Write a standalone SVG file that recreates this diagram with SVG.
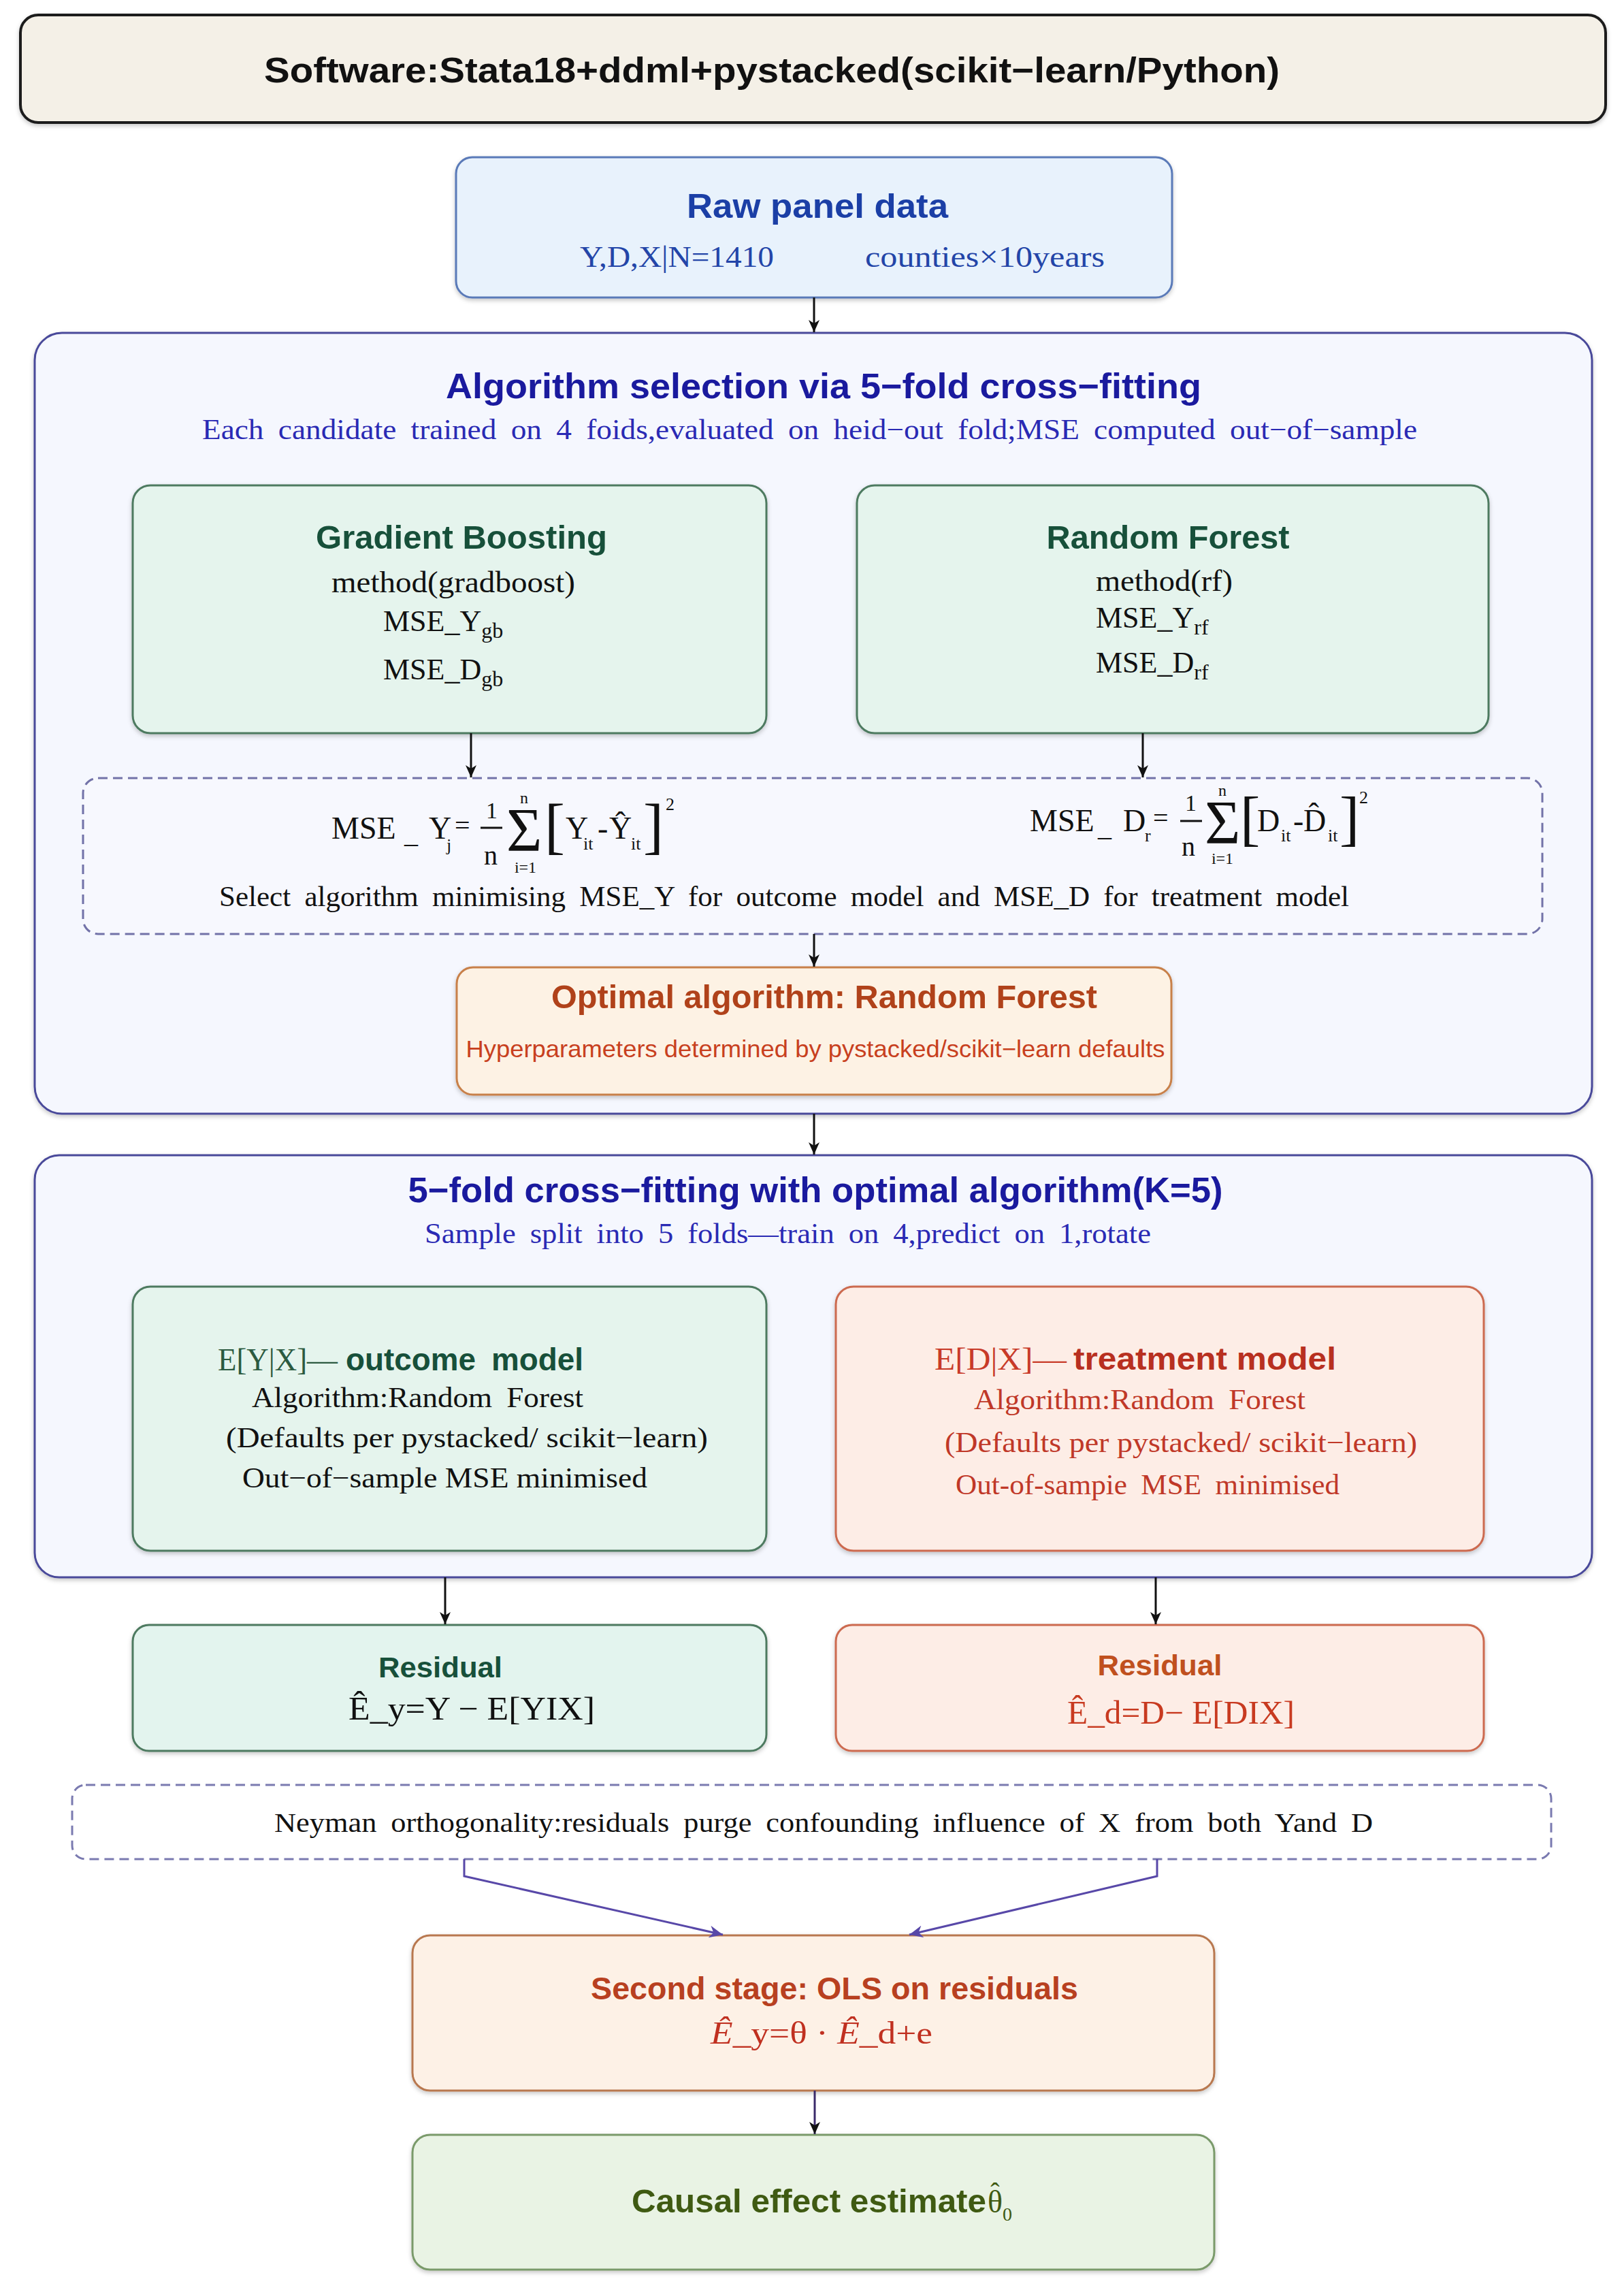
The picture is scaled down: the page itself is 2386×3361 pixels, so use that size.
<svg xmlns="http://www.w3.org/2000/svg" width="2386" height="3361" viewBox="0 0 2386 3361">
<defs>
<style>
.sans{font-family:"Liberation Sans",Arial,sans-serif}
.serif{font-family:"Liberation Serif","Times New Roman",serif}
.b{font-weight:bold}
.ws{word-spacing:0.22em}
.box{stroke-width:3}
.cont{fill:#f5f7fe;stroke:#4a4a9a;stroke-width:3}
.green{fill:#e5f4ed;stroke:#4e7a60}
.dash{fill:#f7f8fe;stroke:#7272a8;stroke-width:3;stroke-dasharray:14 8}
.conn{stroke:#111;stroke-width:3;fill:none}
.connp{stroke:#5848a8;stroke-width:3;fill:none}
</style>
<filter id="sh" x="-5%" y="-5%" width="110%" height="120%">
<feDropShadow dx="0" dy="3" stdDeviation="3" flood-color="#000" flood-opacity="0.22"/>
</filter>
<marker id="ah" markerUnits="userSpaceOnUse" markerWidth="20" markerHeight="16" refX="18" refY="8" orient="auto">
<path d="M0,0 L18,8 L0,16 L5,8 Z" fill="#111"/>
</marker>
<marker id="ahp" markerUnits="userSpaceOnUse" markerWidth="22" markerHeight="18" refX="20" refY="9" orient="auto">
<path d="M0,0 L20,9 L0,18 L6,9 Z" fill="#5848a8"/>
</marker>
</defs>
<rect width="2386" height="3361" fill="#ffffff"/>

<g id="software">
<rect x="30" y="22" width="2329" height="158" rx="26" fill="#f4f0e7" stroke="#1e1e1e" stroke-width="4" filter="url(#sh)"/>
<text class="sans b" x="1134" y="121" text-anchor="middle" font-size="52" textLength="1492" lengthAdjust="spacingAndGlyphs" fill="#111">Software:Stata18+ddml+pystacked(scikit−learn/Python)</text>
</g>

<g id="raw">
<rect x="670" y="231" width="1052" height="206" rx="24" fill="#e8f2fc" stroke="#5a7ab8" class="box" filter="url(#sh)"/>
<text class="sans b" x="1201" y="320" text-anchor="middle" font-size="50" textLength="384" lengthAdjust="spacingAndGlyphs" fill="#1b3fa6">Raw panel data</text>
<text class="serif" x="852" y="392" font-size="44" textLength="285" lengthAdjust="spacingAndGlyphs" fill="#2345a8">Y,D,X|N=1410</text>
<text class="serif" x="1271" y="392" font-size="44" textLength="352" lengthAdjust="spacingAndGlyphs" fill="#2345a8">counties×10years</text>
</g>

<g id="selection">
<rect x="51" y="489" width="2288" height="1147" rx="40" class="cont" filter="url(#sh)"/>
<text class="sans b" x="1210" y="585" text-anchor="middle" font-size="52" textLength="1110" lengthAdjust="spacingAndGlyphs" fill="#1a1a9e">Algorithm selection via 5−fold cross−fitting</text>
<text class="serif ws" x="297" y="645" font-size="42" textLength="1785" lengthAdjust="spacingAndGlyphs" fill="#2a2ab4">Each candidate trained on 4 foids,evaluated on heid−out fold;MSE computed out−of−sample</text>
</g>

<g id="gradboost">
<rect x="195" y="713" width="931" height="364" rx="26" class="green box" filter="url(#sh)"/>
<text class="sans b" x="678" y="806" text-anchor="middle" font-size="48" textLength="428" lengthAdjust="spacingAndGlyphs" fill="#17503a">Gradient Boosting</text>
<text class="serif" x="487" y="870" font-size="44" textLength="358" lengthAdjust="spacingAndGlyphs" fill="#111">method(gradboost)</text>
<text class="serif" x="563" y="927" font-size="44" fill="#111">MSE_Y<tspan font-size="32" dy="10">gb</tspan></text>
<text class="serif" x="563" y="998" font-size="44" fill="#111">MSE_D<tspan font-size="32" dy="10">gb</tspan></text>
</g>

<g id="randomforest">
<rect x="1259" y="713" width="928" height="364" rx="26" class="green box" filter="url(#sh)"/>
<text class="sans b" x="1716" y="806" text-anchor="middle" font-size="48" textLength="357" lengthAdjust="spacingAndGlyphs" fill="#17503a">Random Forest</text>
<text class="serif" x="1610" y="868" font-size="44" textLength="201" lengthAdjust="spacingAndGlyphs" fill="#111">method(rf)</text>
<text class="serif" x="1610" y="922" font-size="44" fill="#111">MSE_Y<tspan font-size="32" dy="10">rf</tspan></text>
<text class="serif" x="1610" y="988" font-size="44" fill="#111">MSE_D<tspan font-size="32" dy="10">rf</tspan></text>
</g>

<g id="mse">
<rect x="122" y="1143" width="2144" height="229" rx="22" class="dash"/>
<g class="serif" fill="#111">
<text x="487" y="1232" font-size="46">MSE<tspan x="594" dy="6" font-size="40">_</tspan><tspan x="630" dy="-6">Y</tspan><tspan x="656" dy="18" font-size="26">j</tspan><tspan x="668" dy="-24" font-size="40">=</tspan></text>
<text x="714" y="1202" font-size="34">1</text>
<line x1="706" y1="1216" x2="738" y2="1216" stroke="#111" stroke-width="3"/>
<text x="711" y="1270" font-size="40">n</text>
<text x="744" y="1250" font-size="90">Σ</text>
<text x="770" y="1180" font-size="24" text-anchor="middle">n</text>
<text x="772" y="1282" font-size="24" text-anchor="middle">i=1</text>
<text x="800" y="1244" font-size="90">[</text>
<text x="831" y="1232" font-size="46">Y<tspan x="857" dy="16" font-size="26">it</tspan><tspan x="878" dy="-16">-</tspan><tspan x="895">Ŷ</tspan><tspan x="927" dy="16" font-size="26">it</tspan></text>
<text x="945" y="1244" font-size="90">]</text>
<text x="978" y="1190" font-size="26">2</text>

<text x="1513" y="1221" font-size="46">MSE<tspan x="1613" dy="7" font-size="40">_</tspan><tspan x="1650" dy="-7">D</tspan><tspan x="1682" dy="15" font-size="26">r</tspan><tspan x="1694" dy="-21" font-size="40">=</tspan></text>
<text x="1741" y="1191" font-size="34">1</text>
<line x1="1734" y1="1206" x2="1766" y2="1206" stroke="#111" stroke-width="3"/>
<text x="1736" y="1257" font-size="40">n</text>
<text x="1770" y="1239" font-size="90">Σ</text>
<text x="1796" y="1169" font-size="24" text-anchor="middle">n</text>
<text x="1796" y="1269" font-size="24" text-anchor="middle">i=1</text>
<text x="1822" y="1232" font-size="88">[</text>
<text x="1847" y="1221" font-size="46">D<tspan x="1882" dy="15" font-size="26">it</tspan><tspan x="1900" dy="-15">-</tspan><tspan x="1915">D̂</tspan><tspan x="1951" dy="15" font-size="26">it</tspan></text>
<text x="1968" y="1232" font-size="88">]</text>
<text x="1997" y="1180" font-size="26">2</text>

<text class="ws" x="322" y="1331" font-size="42" textLength="1660" lengthAdjust="spacingAndGlyphs">Select algorithm minimising MSE_Y for outcome model and MSE_D for treatment model</text>
</g>
</g>

<g id="optimal">
<rect x="671" y="1421" width="1050" height="187" rx="24" fill="#fdf2e4" stroke="#c8804a" class="box" filter="url(#sh)"/>
<text class="sans b" x="1211" y="1481" text-anchor="middle" font-size="48" textLength="802" lengthAdjust="spacingAndGlyphs" fill="#b0421a">Optimal algorithm: Random Forest</text>
<text class="sans" x="1198" y="1553" text-anchor="middle" font-size="35" textLength="1027" lengthAdjust="spacingAndGlyphs" fill="#c8401e">Hyperparameters determined by pystacked/scikit−learn defaults</text>
</g>

<g id="crossfit">
<rect x="51" y="1697" width="2288" height="620" rx="36" class="cont" filter="url(#sh)"/>
<text class="sans b" x="1198" y="1766" text-anchor="middle" font-size="52" textLength="1197" lengthAdjust="spacingAndGlyphs" fill="#1a1a9e">5−fold cross−fitting with optimal algorithm(K=5)</text>
<text class="serif ws" x="624" y="1826" font-size="42" textLength="1067" lengthAdjust="spacingAndGlyphs" fill="#2a2ab4">Sample split into 5 folds—train on 4,predict on 1,rotate</text>
</g>

<g id="outcome">
<rect x="195" y="1890" width="931" height="388" rx="26" class="green box" filter="url(#sh)"/>
<text class="serif" x="320" y="2013" font-size="46" textLength="176" lengthAdjust="spacingAndGlyphs" fill="#2c5a40">E[Y|X]—</text>
<text class="sans b ws" x="508" y="2013" font-size="46" textLength="349" lengthAdjust="spacingAndGlyphs" fill="#17503a">outcome model</text>
<text class="serif ws" x="370" y="2067" font-size="42" textLength="487" lengthAdjust="spacingAndGlyphs" fill="#111">Algorithm:Random Forest</text>
<text class="serif" x="332" y="2126" font-size="42" textLength="708" lengthAdjust="spacingAndGlyphs" fill="#111">(Defaults per pystacked/ scikit−learn)</text>
<text class="serif" x="356" y="2185" font-size="42" textLength="595" lengthAdjust="spacingAndGlyphs" fill="#111">Out−of−sample MSE minimised</text>
</g>

<g id="treatment">
<rect x="1228" y="1890" width="952" height="388" rx="26" fill="#fdede6" stroke="#cc6a50" class="box" filter="url(#sh)"/>
<text class="serif" x="1373" y="2012" font-size="46" textLength="194" lengthAdjust="spacingAndGlyphs" fill="#c83a28">E[D|X]—</text>
<text class="sans b" x="1577" y="2012" font-size="46" textLength="386" lengthAdjust="spacingAndGlyphs" fill="#b83020">treatment model</text>
<text class="serif ws" x="1431" y="2070" font-size="42" textLength="487" lengthAdjust="spacingAndGlyphs" fill="#c03828">Algorithm:Random Forest</text>
<text class="serif" x="1388" y="2133" font-size="42" textLength="694" lengthAdjust="spacingAndGlyphs" fill="#c03828">(Defaults per pystacked/ scikit−learn)</text>
<text class="serif ws" x="1404" y="2195" font-size="42" textLength="564" lengthAdjust="spacingAndGlyphs" fill="#c03828">Out-of-sampie MSE minimised</text>
</g>

<g id="residual-y">
<rect x="195" y="2387" width="931" height="185" rx="24" fill="#e3f4ee" stroke="#4e7a60" class="box" filter="url(#sh)"/>
<text class="sans b" x="647" y="2464" text-anchor="middle" font-size="42" textLength="182" lengthAdjust="spacingAndGlyphs" fill="#17503a">Residual</text>
<text class="serif" x="512" y="2526" font-size="48" textLength="362" lengthAdjust="spacingAndGlyphs" fill="#111">Ê_y=Y − E[YIX]</text>
</g>

<g id="residual-d">
<rect x="1228" y="2387" width="952" height="185" rx="24" fill="#fdede6" stroke="#cc6a50" class="box" filter="url(#sh)"/>
<text class="sans b" x="1704" y="2461" text-anchor="middle" font-size="42" textLength="183" lengthAdjust="spacingAndGlyphs" fill="#c0501e">Residual</text>
<text class="serif" x="1568" y="2532" font-size="48" textLength="334" lengthAdjust="spacingAndGlyphs" fill="#c83a20">Ê_d=D− E[DIX]</text>
</g>

<g id="neyman">
<rect x="106" y="2622" width="2173" height="109" rx="20" fill="#ffffff" stroke="#7a7ab0" stroke-width="3" stroke-dasharray="14 8"/>
<text class="serif ws" x="403" y="2691" font-size="40" textLength="1614" lengthAdjust="spacingAndGlyphs" fill="#111">Neyman orthogonality:residuals purge confounding influence of X from both Yand D</text>
</g>

<g id="second-stage">
<rect x="606" y="2843" width="1178" height="228" rx="26" fill="#fdf1e6" stroke="#b87850" class="box" filter="url(#sh)"/>
<text class="sans b" x="1226" y="2937" text-anchor="middle" font-size="46" textLength="716" lengthAdjust="spacingAndGlyphs" fill="#b84020">Second stage: OLS on residuals</text>
<text class="serif" x="1044" y="3002" font-size="46" textLength="326" lengthAdjust="spacingAndGlyphs" fill="#c03020"><tspan font-style="italic">Ê</tspan>_y=θ · <tspan font-style="italic">Ê</tspan>_d+e</text>
</g>

<g id="causal">
<rect x="606" y="3136" width="1178" height="198" rx="26" fill="#e9f3e4" stroke="#7a9a6a" class="box" filter="url(#sh)"/>
<text class="sans b" x="928" y="3250" font-size="48" textLength="521" lengthAdjust="spacingAndGlyphs" fill="#3f5a12">Causal effect estimate</text>
<text class="serif" x="1451" y="3250" font-size="46" fill="#3f5a12">θ<tspan font-size="28" dy="12">0</tspan></text>
<text class="serif" x="1462" y="3234" font-size="40" text-anchor="middle" fill="#3f5a12">ˆ</text>
</g>

<g id="connectors">
<line x1="1196" y1="437" x2="1196" y2="488" class="conn" marker-end="url(#ah)"/>
<line x1="692" y1="1077" x2="692" y2="1142" class="conn" marker-end="url(#ah)"/>
<line x1="1679" y1="1077" x2="1679" y2="1142" class="conn" marker-end="url(#ah)"/>
<line x1="1196" y1="1372" x2="1196" y2="1420" class="conn" marker-end="url(#ah)"/>
<line x1="1196" y1="1636" x2="1196" y2="1696" class="conn" marker-end="url(#ah)"/>
<line x1="654" y1="2317" x2="654" y2="2386" class="conn" marker-end="url(#ah)"/>
<line x1="1698" y1="2317" x2="1698" y2="2386" class="conn" marker-end="url(#ah)"/>
<polyline points="682,2731 682,2756 1062,2842" class="connp" marker-end="url(#ahp)"/>
<polyline points="1700,2731 1700,2756 1336,2842" class="connp" marker-end="url(#ahp)"/>
<line x1="1197" y1="3071" x2="1197" y2="3135" stroke="#3a2a6a" stroke-width="3" marker-end="url(#ah)"/>
</g>
</svg>
